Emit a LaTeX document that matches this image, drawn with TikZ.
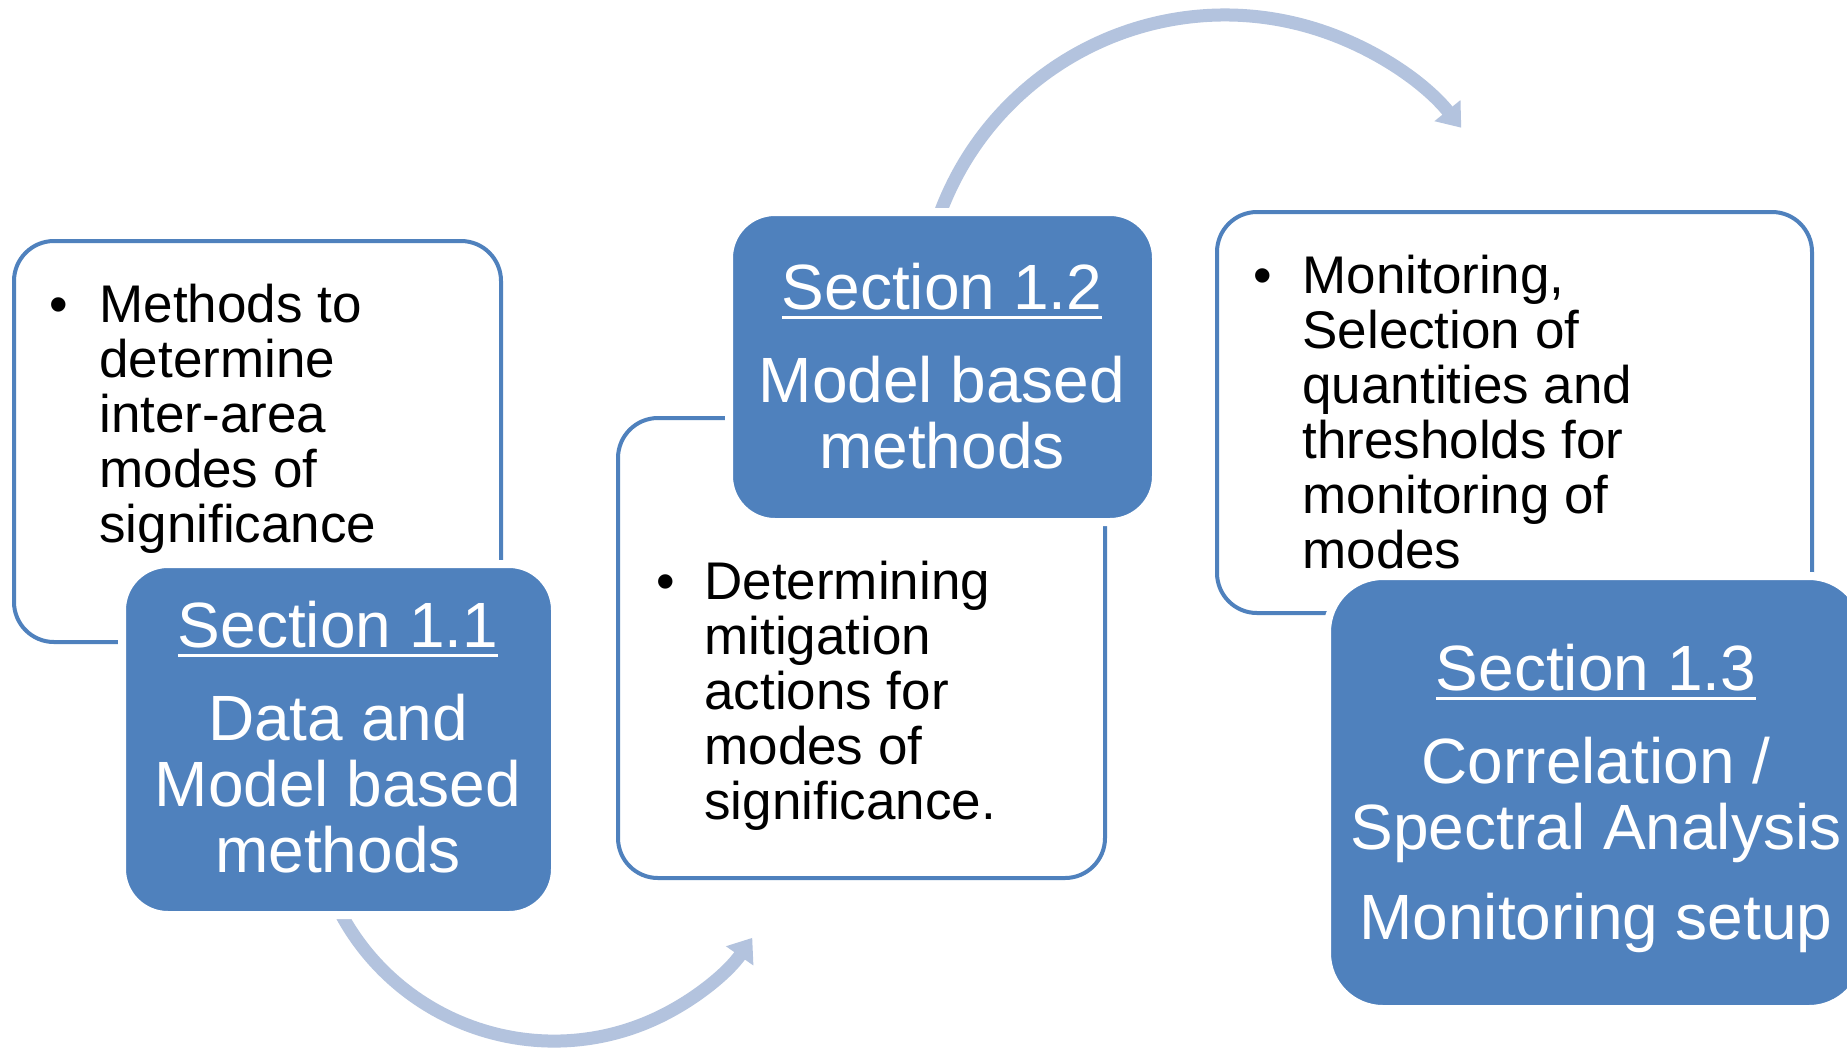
\documentclass[tikz,border=0pt]{standalone}
\usepackage{fontspec}
\setmainfont{Liberation Sans}
\usetikzlibrary{arrows.meta}
\definecolor{secblue}{HTML}{4F81BD}
\definecolor{flowblue}{HTML}{B3C3DE}
% underlined section heading with a thicker rule
\newcommand\secrule[1]{\setbox0=\hbox{#1}\rlap{\rule[-5pt]{\wd0}{1.6pt}}\box0}
% fixes the height of a first line so that the block top is predictable
\newcommand\topstrut{\rule{0pt}{30pt}}
\begin{document}
\begin{tikzpicture}[x=0.5pt,y=-0.5pt,
  notebox/.style={draw=secblue, line width=2pt, fill=white, rounded corners=20pt, inner sep=0pt},
  secbox/.style={draw=white, line width=4pt, fill=secblue, rounded corners=23pt, inner sep=0pt},
  bullettext/.style={anchor=north west, align=left, inner sep=0pt, font=\fontsize{26.5}{27.5}\selectfont},
  bulletdot/.style={anchor=north, inner sep=0pt, font=\fontsize{26.5}{27.5}\selectfont},
  sectext/.style={anchor=north, align=center, inner sep=0pt, text=white, font=\fontsize{32}{33}\selectfont},
  flow/.style={draw=flowblue, line width=6.5pt, -{Triangle[width=16pt,length=11pt]}}]

\path[use as bounding box, fill=white] (0,0) rectangle (1847,1051);

% curved flow arrows (circle centres at (554,799) and (1225,319))
\coordinate (flowAstart) at (334.7,901.3);
\coordinate (flowBstart) at (935.9,225.1);
\draw[flow] (flowAstart) arc[start angle=205, end angle=325, radius=121pt];
\draw[flow] (flowBstart) arc[start angle=162, end angle=39, radius=152pt];

% note boxes
\node[notebox, minimum width=243.5pt, minimum height=200.5pt] (noteA) at (257.5,441.5) {};
\node[notebox, minimum width=243.5pt, minimum height=230pt] (noteB) at (861.5,648) {};
\node[notebox, minimum width=297.5pt, minimum height=200.5pt] (noteC) at (1514.5,412.5) {};

% section boxes
\node[secbox, minimum width=216.5pt, minimum height=175.5pt] (secA) at (338.5,739.5) {};
\node[secbox, minimum width=213.5pt, minimum height=155pt] (secB) at (942.5,367) {};
\node[secbox, rounded corners=28pt, minimum width=269pt, minimum height=216.5pt] (secC) at (1596,792.5) {};

% note texts
\node[bulletdot] (dotA) at (59,262) {\topstrut\textbullet};
\node[bullettext] (txtA) at (99,262) {\topstrut Methods to\\determine\\inter-area\\modes of\\significance};
\node[bulletdot] (dotB) at (666,539) {\topstrut\textbullet};
\node[bullettext] (txtB) at (704,539) {\topstrut Determining\\mitigation\\actions for\\modes of\\significance.};
\node[bulletdot] (dotC) at (1263,233) {\topstrut\textbullet};
\node[bullettext] (txtC) at (1302,233) {\topstrut Monitoring,\\Selection of\\quantities and\\thresholds for\\monitoring of\\modes};

% section texts
\node[sectext] (headA) at (338,587) {\topstrut\secrule{Section 1.1}\\[13.5pt]Data and\\Model based\\methods};
\node[sectext] (headB) at (942,249) {\topstrut\secrule{Section 1.2}\\[13.5pt]Model based\\methods};
\node[sectext] (headC) at (1596,630) {\topstrut\secrule{Section 1.3}\\[13.5pt]Correlation /\\Spectral Analysis\\[12pt]Monitoring setup};
\end{tikzpicture}
\end{document}
